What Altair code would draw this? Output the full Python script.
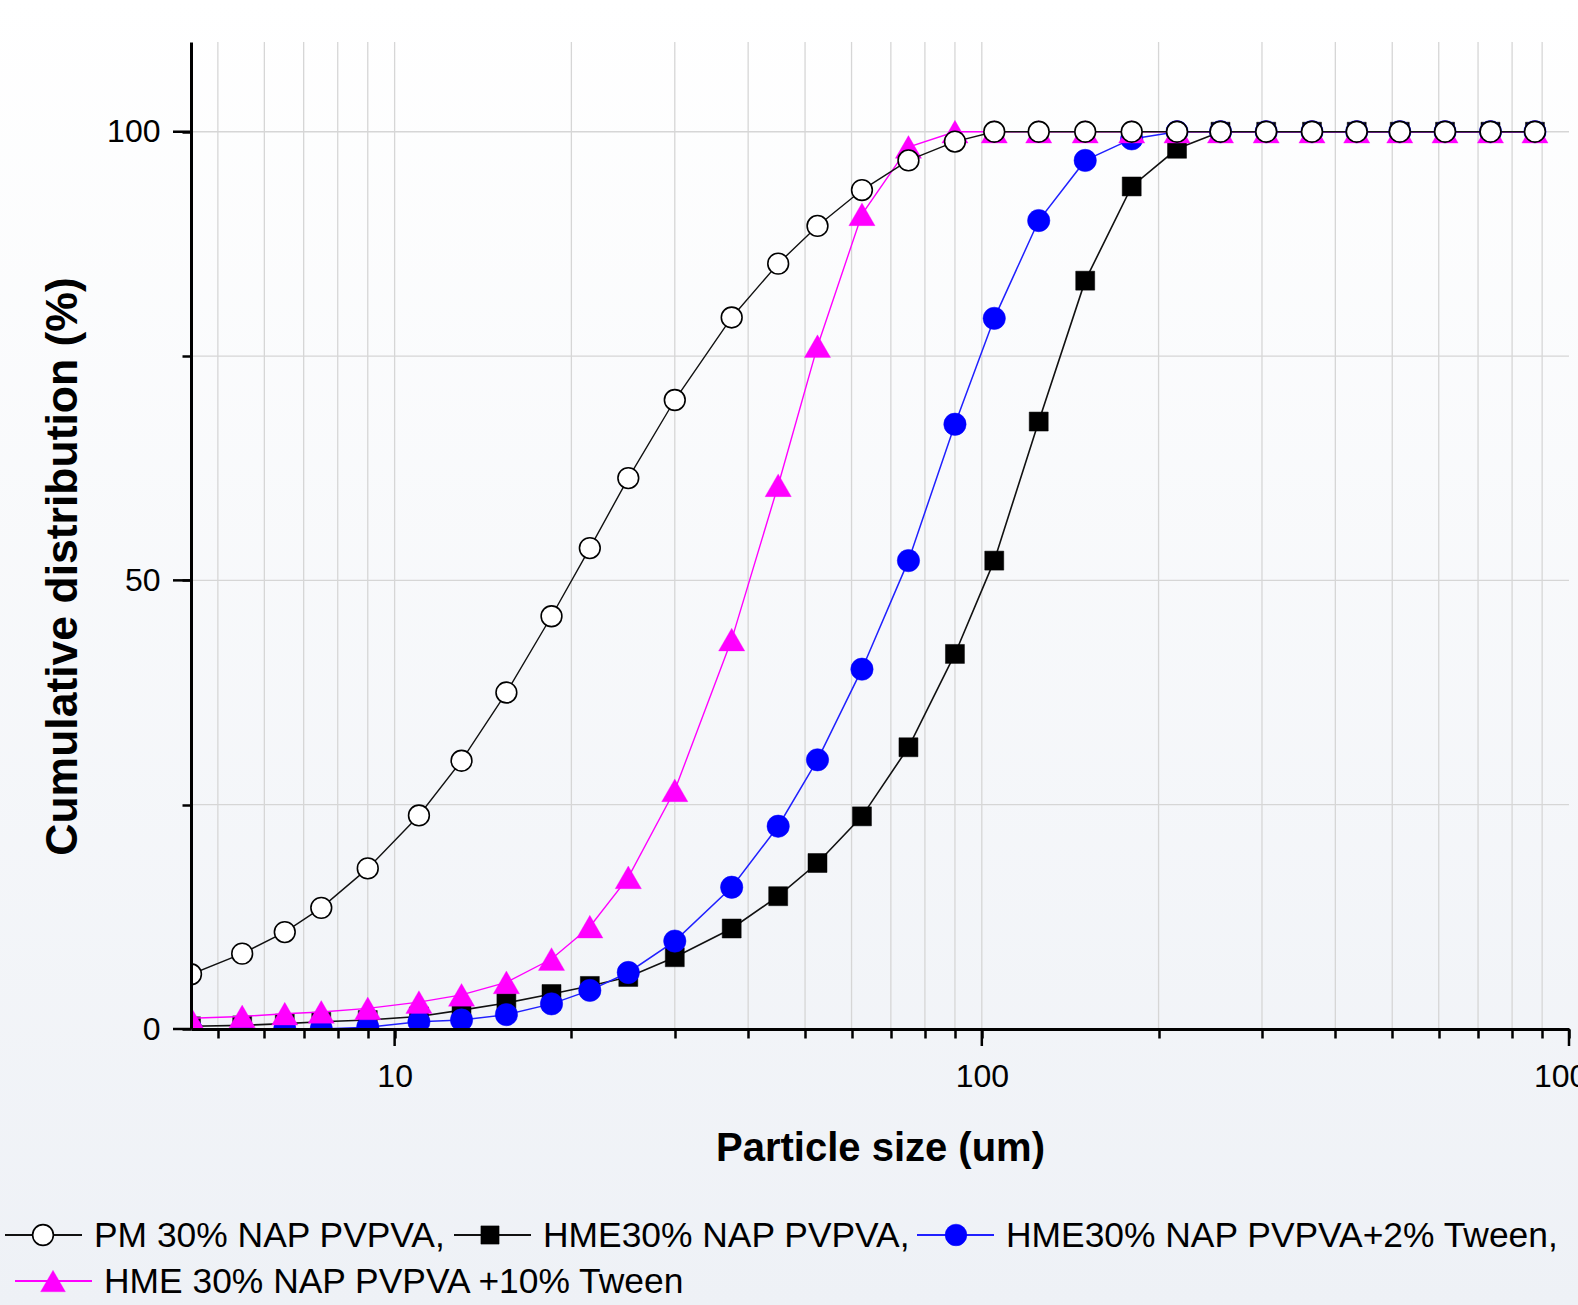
import altair as alt
import pandas as pd

# ---------------- data ----------------
sizes = [4.5, 5.5, 6.5, 7.5, 9, 11, 13, 15.5, 18.5, 21.5, 25, 30, 37.5, 45, 52.5,
         62.5, 75, 90, 105, 125, 150, 180, 215, 255, 305, 365, 435, 515, 615, 735, 875]

pm_vals = [6.1, 8.4, 10.8, 13.5, 17.9, 23.8, 29.9, 37.5, 46.0, 53.6, 61.4, 70.1, 79.3, 85.3, 89.5,
           93.5, 96.8, 98.9, 100, 100, 100, 100, 100, 100, 100, 100, 100, 100, 100, 100, 100]
hme_vals = [0.3, 0.4, 0.6, 0.8, 1.0, 1.4, 2.1, 2.9, 3.9, 4.8, 5.8, 8.0, 11.2, 14.8, 18.5,
            23.7, 31.4, 41.8, 52.2, 67.7, 83.4, 93.9, 98.1, 100, 100, 100, 100, 100, 100, 100, 100]
tw2_vals = [0.0, 0.0, 0.0, 0.0, 0.2, 0.8, 1.0, 1.6, 2.8, 4.3, 6.3, 9.8, 15.8, 22.6, 30.0,
            40.1, 52.2, 67.4, 79.2, 90.1, 96.8, 99.2, 100, 100, 100, 100, 100, 100, 100, 100, 100]
tw10_vals = [1.2, 1.4, 1.7, 1.9, 2.3, 3.0, 3.8, 5.2, 7.8, 11.4, 16.9, 26.6, 43.4, 60.6, 76.1,
             90.8, 98.3, 100, 100, 100, 100, 100, 100, 100, 100, 100, 100, 100, 100, 100, 100]

legend_labels = ["PM 30% NAP PVPVA,", "HME30% NAP PVPVA,",
                 "HME30% NAP PVPVA+2% Tween,", "HME 30% NAP PVPVA +10% Tween"]

x_grid = [5, 6, 7, 8, 9, 10, 20, 30, 40, 50, 60, 70, 80, 90,
          100, 200, 300, 400, 500, 600, 700, 800, 900]
x_tick_vals = [5, 6, 7, 8, 9, 10, 20, 30, 40, 50, 60, 70, 80, 90,
               100, 200, 300, 400, 500, 600, 700, 800, 900, 1000]
x_major = [10, 100, 1000]
y_grid = [25, 50, 75, 100]
y_tick_vals = [0, 25, 50, 75, 100]
y_major = [0, 50, 100]

# ---------------- layout ----------------
TW, TH = 1578, 1305
PL, PT = 191, 42
W, H = 1378, 987
FONT = "Liberation Sans"

xscale = alt.Scale(type="log", domain=[4.5, 1000], nice=False)
yscale = alt.Scale(domain=[0, 110], nice=False, zero=False)

xaxis = alt.Axis(
    values=x_tick_vals, grid=False, domain=True, domainColor="black", domainWidth=3,
    ticks=True, tickSize=9, tickWidth=2.5, tickColor="black",
    labelExpr="(datum.value == 10 || datum.value == 100 || datum.value == 1000) ? format(datum.value, 'd') : ''",
    labelFont=FONT, labelFontSize=32, labelColor="black", labelPadding=23,
    labelFlush=False, labelOverlap=False,
    title="Particle size (um)", titleFont=FONT, titleFontSize=40, titleFontWeight="bold",
    titleColor="black", titleX=W / 2, titleY=131, titleBaseline="alphabetic", titleAlign="center",
    zindex=1,
)
yaxis = alt.Axis(
    values=y_tick_vals, grid=False, domain=True, domainColor="black", domainWidth=3,
    ticks=True, tickSize=9, tickWidth=2.5, tickColor="black",
    labelExpr="(datum.value % 50 == 0) ? format(datum.value, 'd') : ''",
    labelFont=FONT, labelFontSize=32, labelColor="black", labelPadding=22,
    labelOverlap=False,
    title="Cumulative distribution (%)", titleFont=FONT, titleFontSize=44.5, titleFontWeight="bold",
    titleColor="black", titleAngle=270, titleX=-128, titleY=524, titleBaseline="middle",
    titleAlign="center",
    zindex=1,
)


def X():
    return alt.X("size:Q", scale=xscale, axis=xaxis)


def Y():
    return alt.Y("value:Q", scale=yscale, axis=yaxis)


one = pd.DataFrame({"k": [0]})

gradient = alt.LinearGradient(
    gradient="linear", x1=0, y1=0, x2=0, y2=1,
    stops=[alt.GradientStop(color="#ffffff", offset=0),
           alt.GradientStop(color="#eef1f6", offset=1)],
)
bg = alt.Chart(one).mark_rect(fill=gradient).encode(
    x=alt.value(-PL), x2=alt.value(TW - PL), y=alt.value(-PT), y2=alt.value(TH - PT)
)

grid_v = alt.Chart(pd.DataFrame({"size": x_grid})).mark_rule(color="#d6d6d6", strokeWidth=1.3).encode(
    x=X(), y=alt.value(0), y2=alt.value(H)
)
grid_h = alt.Chart(pd.DataFrame({"value": y_grid})).mark_rule(color="#d6d6d6", strokeWidth=1.3).encode(
    y=Y(), x=alt.value(0), x2=alt.value(W)
)
major_x = alt.Chart(pd.DataFrame({"size": x_major})).mark_rule(color="black", strokeWidth=2.5).encode(
    x=X(), y=alt.value(H), y2=alt.value(H + 17)
)
major_y = alt.Chart(pd.DataFrame({"value": y_major})).mark_rule(color="black", strokeWidth=2.5).encode(
    y=Y(), x=alt.value(-18), x2=alt.value(0)
)

styles = [
    # (values, line colour, line width, shape, fill, stroke, stroke width, size)
    (hme_vals, "#111111", 1.6, "square", "black", "black", 0.5, 360),
    (tw2_vals, "#2020ff", 1.5, "circle", "#0000ff", "#0000ff", 0.5, 500),
    (tw10_vals, "#ff00ff", 1.4, "triangle-up", "#ff00ff", "#ff00ff", 0.3, 690),
    (pm_vals, "#111111", 1.4, "circle", "white", "black", 1.6, 430),
]

series_layers = []
for vals, lc, lw, shape, fill, stroke, sw, sz in styles:
    df = pd.DataFrame({"size": sizes, "value": vals})
    base = alt.Chart(df)
    series_layers.append(
        base.mark_line(color=lc, strokeWidth=lw, clip=True).encode(x=X(), y=Y())
    )
    series_layers.append(
        base.mark_point(shape=shape, filled=True, fill=fill, stroke=stroke, strokeWidth=sw,
                        size=sz, opacity=1, clip=True).encode(x=X(), y=Y())
    )

# ---------------- legend (two rows under the plot) ----------------
legend_pos = [
    # line x1, line x2, marker x, text x, centre y, baseline y
    (5, 82, 43, 94, 1235, 1247),
    (454, 531, 490, 543, 1235, 1247),
    (917, 994, 956, 1006, 1235, 1247),
    (15, 92, 53, 104, 1281, 1293),
]
legend_style = [
    ("#111111", "circle", "white", "black", 1.6, 430),
    ("#111111", "square", "black", "black", 0.5, 330),
    ("#2020ff", "circle", "#0000ff", "#0000ff", 0.5, 470),
    ("#ff00ff", "triangle-up", "#ff00ff", "#ff00ff", 0.3, 620),
]
legend_layers = []
for label, (x1, x2, mx, tx, yc, yb), (lc, shape, fill, stroke, sw, sz) in zip(
        legend_labels, legend_pos, legend_style):
    ldf = pd.DataFrame({"label": [label]})
    lbase = alt.Chart(ldf)
    legend_layers.append(
        lbase.mark_rule(color=lc, strokeWidth=2).encode(
            x=alt.value(x1 - PL), x2=alt.value(x2 - PL), y=alt.value(yc - PT))
    )
    legend_layers.append(
        lbase.mark_point(shape=shape, filled=True, fill=fill, stroke=stroke, strokeWidth=sw,
                         size=sz, opacity=1).encode(x=alt.value(mx - PL), y=alt.value(yc - PT))
    )
    legend_layers.append(
        lbase.mark_text(align="left", baseline="alphabetic", font=FONT, fontSize=35.4,
                        color="black").encode(
            x=alt.value(tx - PL), y=alt.value(yb - PT), text="label:N")
    )

chart = alt.layer(
    bg, grid_v, grid_h, *series_layers, major_x, major_y, *legend_layers
).properties(
    width=W, height=H,
    autosize=alt.AutoSizeParams(type="none"),
    padding={"left": PL, "top": PT, "right": TW - PL - W, "bottom": TH - PT - H},
    background="#ffffff",
).configure_view(stroke=None)

chart.save("out.html", embed_options={"renderer": "svg", "actions": False})
